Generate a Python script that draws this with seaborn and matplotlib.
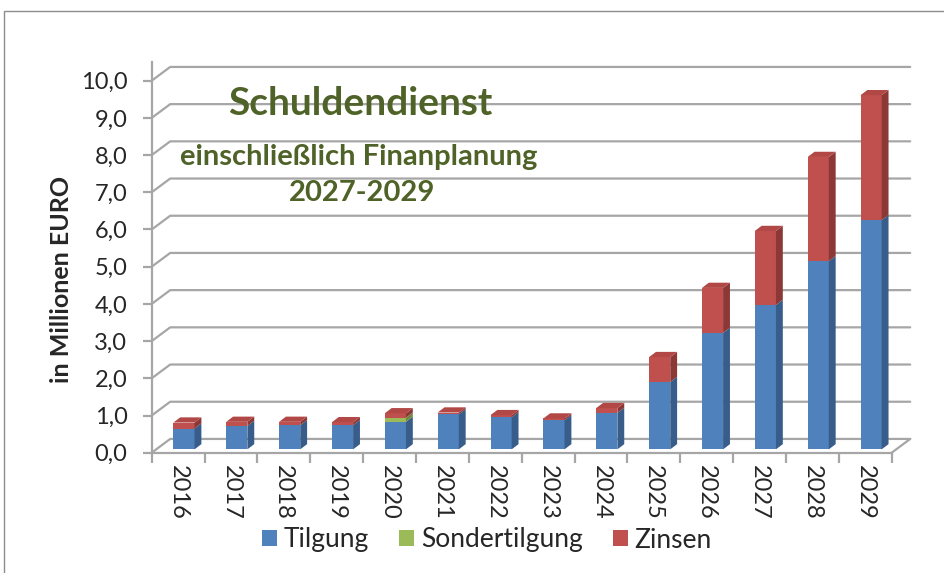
import numpy as np
import pandas as pd
import matplotlib
matplotlib.use("Agg")
import matplotlib.pyplot as plt
import seaborn as sns
from matplotlib.patches import Polygon, Rectangle, Patch

# ── Data (Mio. EUR) ──
years = [str(y) for y in range(2016, 2030)]
tilgung = [0.56, 0.63, 0.65, 0.65, 0.74, 0.94, 0.86, 0.78, 0.98, 1.81, 3.13, 3.88, 5.06, 6.16]
sondertilgung = [0.0, 0.0, 0.0, 0.0, 0.11, 0.0, 0.0, 0.0, 0.0, 0.0, 0.0, 0.0, 0.0, 0.0]
zinsen = [0.16, 0.11, 0.09, 0.08, 0.12, 0.05, 0.06, 0.05, 0.13, 0.67, 1.21, 1.99, 2.80, 3.36]
y_ticks = list(range(0, 11))

# ── Style ──
series = [
    ("Tilgung", "#4F81BD", "#385D8A", "#6A95CC"),
    ("Sondertilgung", "#9BBB59", "#71893F", "#B3CF7A"),
    ("Zinsen", "#C0504D", "#8C3836", "#B24845"),
]
GRID = "#A6A6A6"
TITLE_COL = "#4F6228"
DX_BACK, DY_BACK = 0.35, 0.37     # wall depth (3D look)
BX, BY = 0.13, 0.14               # bar depth
SHIFT_X, SHIFT_Y = 0.11, 0.09     # bars sit mid-depth

sns.set_theme(style="white")
plt.rcParams["font.family"] = ["Lato", "DejaVu Sans"]

df = pd.DataFrame({"Jahr": years, "Tilgung": tilgung,
                   "Sondertilgung": sondertilgung, "Zinsen": zinsen})

fig = plt.figure(figsize=(9.45, 5.73), dpi=100)
ax = fig.add_axes([151.7 / 945, 1 - 452.7 / 573, 740 / 945, 372 / 573])

# ── Stacked bars ──
bottom = np.zeros(len(years))
layers = []
for name, col, side_col, top_col in series:
    n0 = len(ax.patches)
    sns.barplot(data=df, x="Jahr", y=name, color=col, saturation=1, width=0.40,
                bottom=bottom, linewidth=0, ax=ax, zorder=3)
    layers.append((ax.patches[n0:], side_col, top_col))
    bottom = bottom + df[name].to_numpy()

# 3D faces
top_layer = {}
for li, (patches, side_col, top_col) in enumerate(layers):
    for i, p in enumerate(patches):
        p.set_x(p.get_x() + SHIFT_X)
        p.set_y(p.get_y() + SHIFT_Y)
        if p.get_height() > 0:
            top_layer[i] = li
for li, (patches, side_col, top_col) in enumerate(layers):
    for i, p in enumerate(patches):
        x0, y0, w, h = p.get_x(), p.get_y(), p.get_width(), p.get_height()
        if h <= 0:
            continue
        ax.add_patch(Polygon([(x0 + w, y0), (x0 + w + BX, y0 + BY),
                              (x0 + w + BX, y0 + h + BY), (x0 + w, y0 + h)],
                             closed=True, facecolor=side_col, lw=0, zorder=3))
        if top_layer[i] == li:
            ax.add_patch(Polygon([(x0, y0 + h), (x0 + w, y0 + h),
                                  (x0 + w + BX, y0 + h + BY), (x0 + BX, y0 + h + BY)],
                                 closed=True, facecolor=top_col, lw=0, zorder=3))

# ── Back wall gridlines + floor ──
x_left, x_right = -0.5, len(years) - 0.5
for v in y_ticks:
    ax.plot([x_left, x_left + DX_BACK, x_right + DX_BACK], [v, v + DY_BACK, v + DY_BACK],
            color=GRID, lw=1.6, clip_on=False, zorder=1)
ax.plot([x_right, x_right + DX_BACK], [0, DY_BACK], color=GRID, lw=1.6, clip_on=False, zorder=1)

ax.set_xlim(x_left, x_right)
ax.set_ylim(0, 10)
for s in ["top", "right"]:
    ax.spines[s].set_visible(False)
ax.spines["left"].set_color(GRID)
ax.spines["left"].set_linewidth(1.6)
ax.spines["left"].set_bounds(0, 10.5)
ax.spines["bottom"].set_color(GRID)
ax.spines["bottom"].set_linewidth(1.6)

ax.set_yticks(y_ticks)
ax.set_yticklabels([f"{v:.1f}".replace(".", ",") for v in y_ticks], fontsize=17)
ax.set_xticks(range(len(years)))
ax.set_xticklabels(years, rotation=270, fontsize=17)
ax.set_xticks(np.arange(len(years) + 1) - 0.5, minor=True)
ax.tick_params(axis="y", direction="out", length=6.5, width=1.6, color=GRID, pad=11, left=True)
ax.tick_params(axis="x", which="major", length=0, pad=9)
ax.tick_params(axis="x", which="minor", direction="out", length=7, width=1.6, color=GRID, bottom=True)
ax.set_xlabel("")
ax.set_ylabel("")
ax.grid(False)

# ── Texts ──
fig.text(62 / 945, 1 - 279 / 573, "in Millionen EURO", rotation=90, ha="center", va="center",
         fontsize=18, fontweight="bold")
fig.text(360 / 945, 1 - 103 / 573, "Schuldendienst", ha="center", va="center",
         fontsize=28, fontweight="bold", color=TITLE_COL)
fig.text(359 / 945, 1 - 157 / 573, "einschließlich Finanplanung", ha="center", va="center",
         fontsize=21, fontweight="bold", color=TITLE_COL)
fig.text(362 / 945, 1 - 193 / 573, "2027-2029", ha="center", va="center",
         fontsize=21, fontweight="bold", color=TITLE_COL)

handles = [Patch(facecolor=c, edgecolor="none", label=n) for n, c, _, _ in series]
fig.legend(handles=handles, loc="center", bbox_to_anchor=(487 / 945, 1 - 540 / 573), ncol=3,
           frameon=False, fontsize=19, handlelength=0.57, handleheight=0.57,
           handletextpad=0.25, columnspacing=1.15)

# outer chart border
fig.add_artist(Rectangle((4 / 945, -0.1), 2, 1.1 - 11 / 573, transform=fig.transFigure,
                         fill=False, edgecolor="#8C8C8C", lw=1))

fig.savefig("out.png", dpi=100)
